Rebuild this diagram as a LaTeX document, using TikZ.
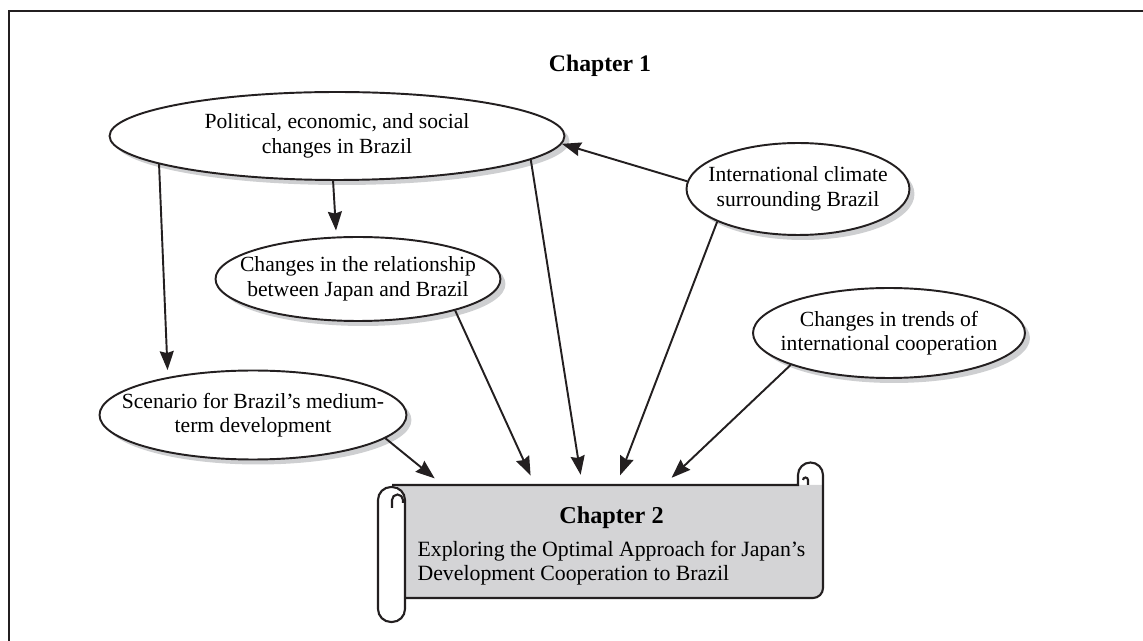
\documentclass[tikz,border=0pt]{standalone}
\usepackage{fontspec}
\setmainfont{Liberation Serif}
\usetikzlibrary{arrows.meta,shapes,shadows}

\definecolor{scrollgray}{RGB}{212,212,214}
\definecolor{shadowgray}{RGB}{206,207,209}
\definecolor{inkblack}{RGB}{35,31,32}

\begin{document}
\begin{tikzpicture}[x=0.02cm,y=-0.02cm,>={Stealth[length=0.38cm,width=0.28cm,inset=0.04cm]},
        bubble/.style={shape=ellipse,draw=inkblack,fill=white,line width=1.1pt,inner xsep=-4cm,inner ysep=-1cm,
            align=center,font=\fontsize{12.3}{14}\selectfont,
            drop shadow={shadow xshift=0.1cm,shadow yshift=-0.1cm,fill=shadowgray,opacity=1}},
        link/.style={->,line width=1.1pt,inkblack}]
                \useasboundingbox (0,0) rectangle (1143,641);
                % frame
                \draw[line width=1.5pt,inkblack] (9,660) -- (9,11) -- (1160,11);
                \node[font=\fontsize{13.5}{15}\selectfont\bfseries](Ch1)at(600,66){Chapter 1};
                \node[bubble,minimum width=9.1cm,minimum height=1.76cm](Pol)at(337,136){Political, economic, and social\\changes in Brazil};
                \node[bubble,minimum width=4.46cm,minimum height=1.84cm](Intl)at(798,189){International climate\\surrounding Brazil};
                \node[bubble,minimum width=5.7cm,minimum height=1.68cm](Rel)at(358,279){Changes in the relationship\\between Japan and Brazil};
                \node[bubble,minimum width=5.44cm,minimum height=1.8cm](Trend)at(889,333){Changes in trends of\\international cooperation};
                \node[bubble,minimum width=6.14cm,minimum height=1.78cm](Scen)at(253,415){Scenario for Brazil’s medium-\\term development};
                % scroll
                \fill[scrollgray] (392,485) -- (823,485) [rounded corners=0.2cm]-- (823,598) -- (392,598) -- cycle;
                \draw[line width=1.2pt,inkblack] (392,485) -- (798,485) -- (798,475) arc[start angle=180,end angle=0,radius=0.25cm]
                    [rounded corners=0.2cm]-- (823,598) -- (405,598);
                \draw[line width=1.2pt,inkblack] (808,485) -- (808,480) arc[start angle=0,end angle=180,radius=0.05cm];
                \draw[line width=1.2pt,inkblack,fill=white,rounded corners=0.26cm] (378,487) rectangle (405,622);
                \draw[line width=1.2pt,inkblack] (392,508) -- (392,500) arc[start angle=180,end angle=0,radius=0.11cm] -- (403,503);
                \node[minimum width=8.62cm,minimum height=2.26cm,inner sep=0pt,font=\fontsize{12.4}{14}\selectfont](Ch2)at(607.5,541.5){%
                    \hspace*{0.16cm}\raisebox{-0.12cm}[\height][\depth]{\begin{tabular}{@{}l@{}}\multicolumn{1}{@{}c@{}}{\fontsize{13.8}{16}\selectfont\bfseries Chapter 2}\\[4.5pt]
                    Exploring the Optimal Approach for Japan’s\\Development Cooperation to Brazil\end{tabular}}};
                \path[link](Pol.189) edge [shorten >=0.14cm] (Scen.156)
                (Pol.-95) edge [shorten >=0.12cm] (Rel.117)
                (Pol.-7) edge [shorten >=0.2cm] (Ch2.114)
                (Intl.176) edge (Pol.-2)
                (Intl.202) edge [shorten >=0.2cm] (Ch2.81)
                (Rel.-18) edge [shorten >=0.2cm] (Ch2.142)
                (Trend.198) edge [shorten >=0.2cm] (Ch2.45)
                (Scen.-10) edge [shorten >=0.2cm] (Ch2.161);
            \end{tikzpicture}
\end{document}
